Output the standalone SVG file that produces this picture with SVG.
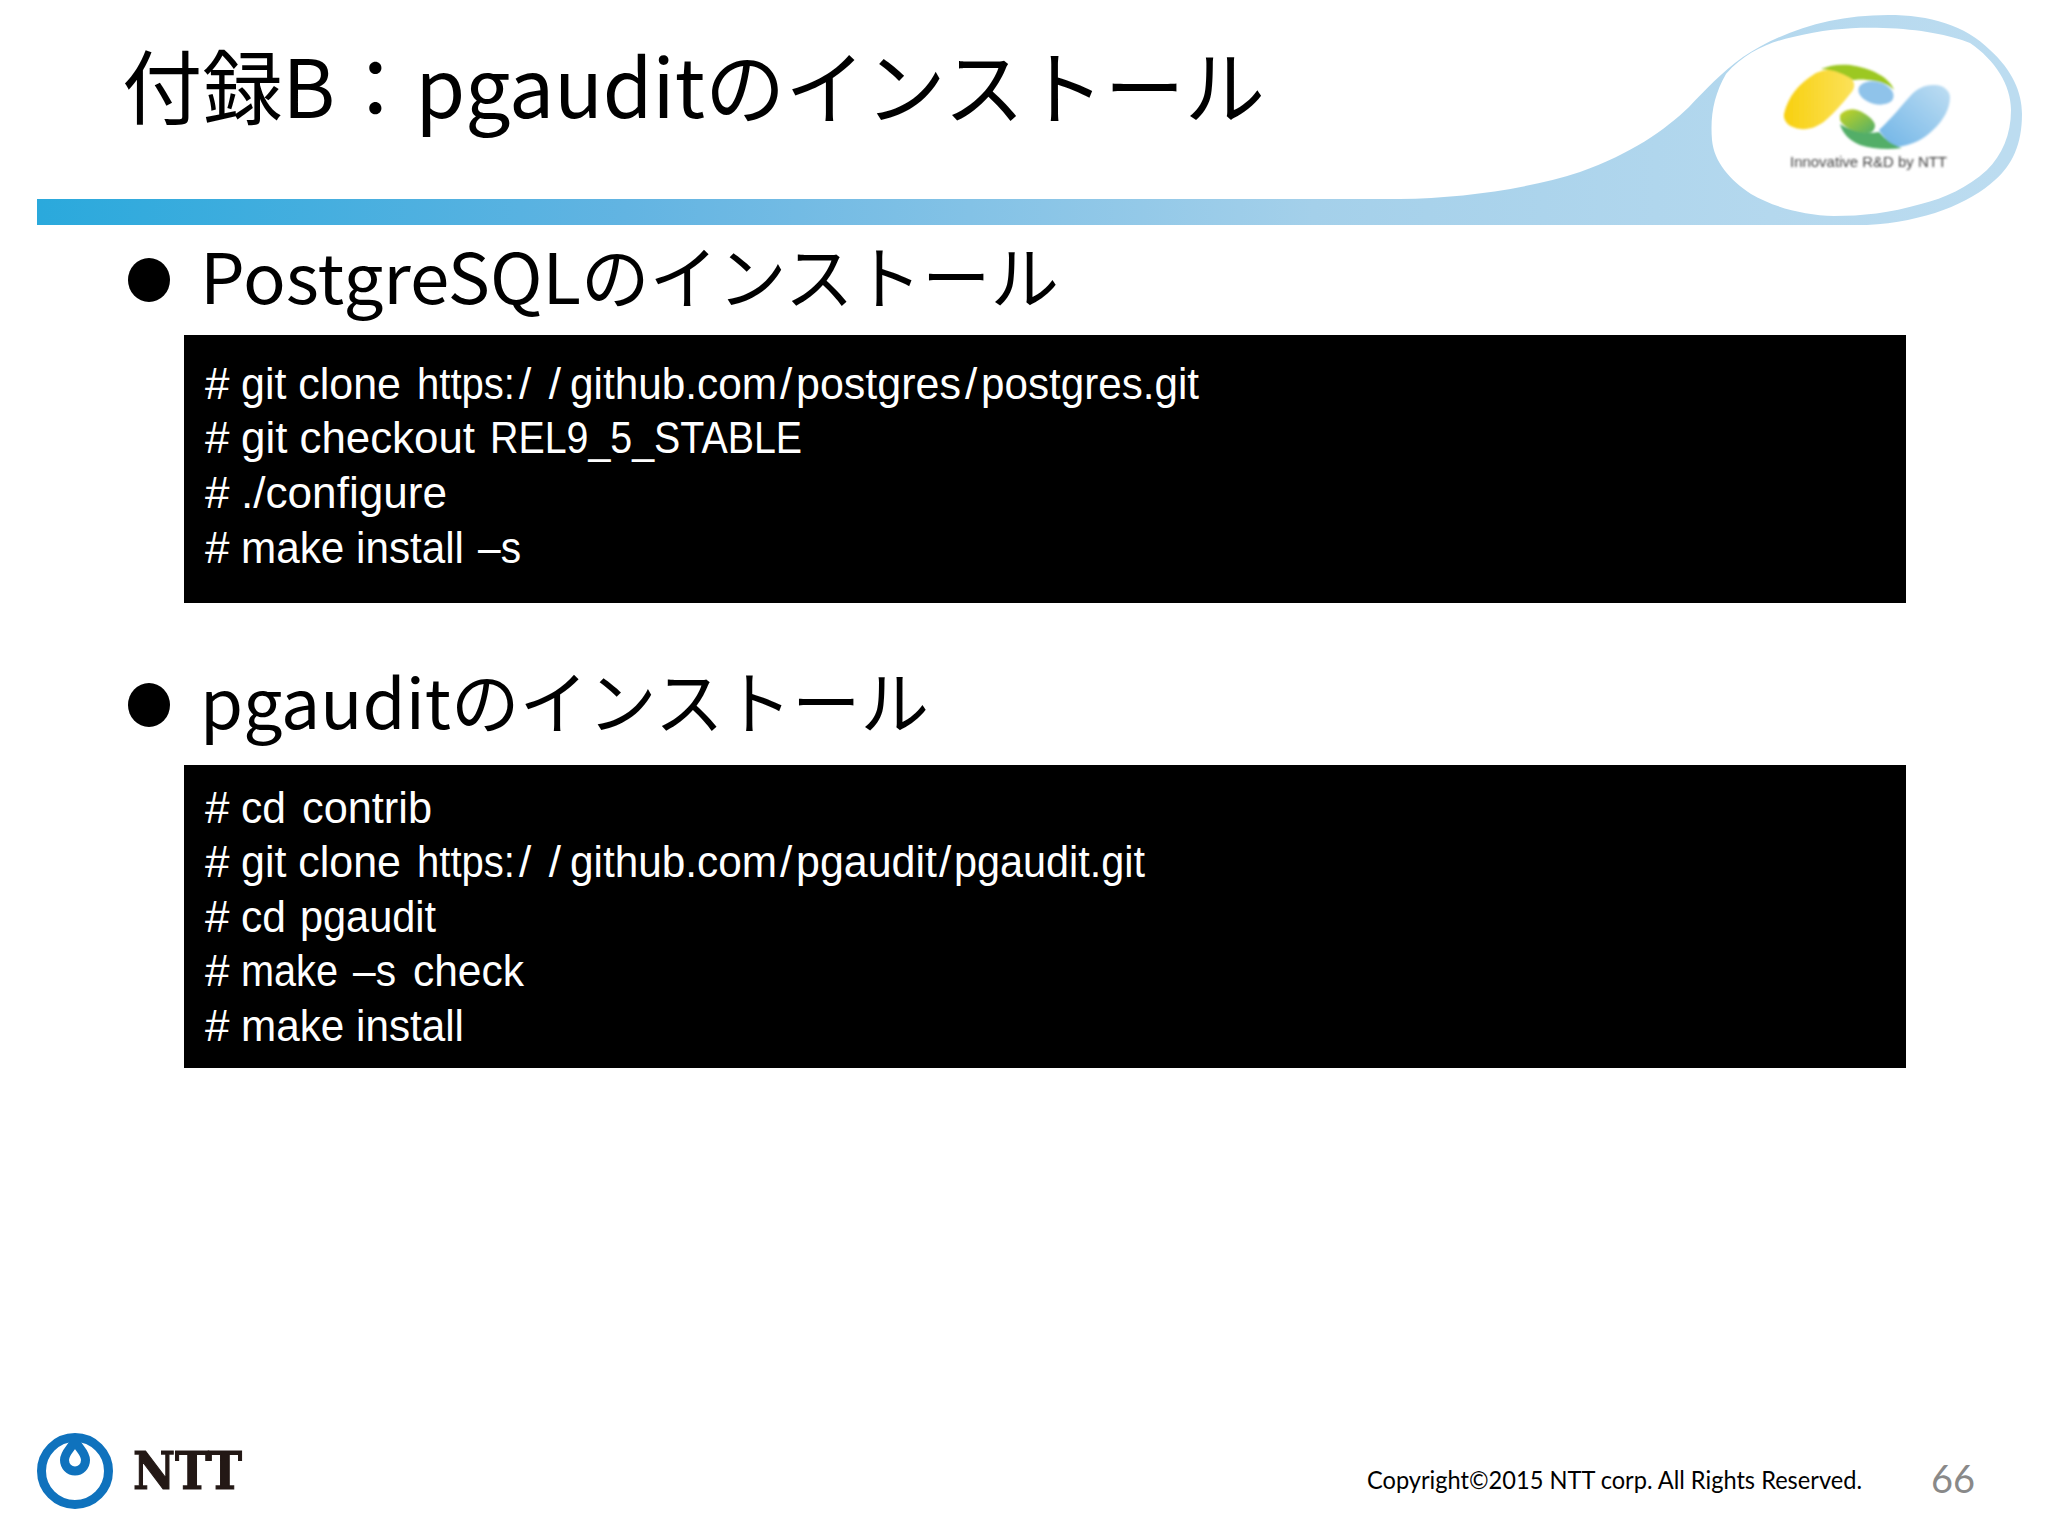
<svg xmlns="http://www.w3.org/2000/svg" width="2048" height="1536" viewBox="0 0 2048 1536">
<defs>
<linearGradient id="band" gradientUnits="userSpaceOnUse" x1="37" y1="0" x2="2000" y2="0"><stop offset="0" stop-color="#2aa9dc"/><stop offset="0.3" stop-color="#62b4e2"/><stop offset="0.65" stop-color="#a4d0ea"/><stop offset="1" stop-color="#bcdcf0"/></linearGradient>
<linearGradient id="yel" x1="0" y1="0" x2="1" y2="0"><stop offset="0" stop-color="#f8d010"/><stop offset="1" stop-color="#fbe25a"/></linearGradient>
<linearGradient id="blu" x1="0" y1="1" x2="1" y2="0"><stop offset="0" stop-color="#6fb4e6"/><stop offset="1" stop-color="#bfdef3"/></linearGradient>
<linearGradient id="grn" x1="0" y1="0" x2="1" y2="1"><stop offset="0" stop-color="#c8d420"/><stop offset="1" stop-color="#4fae6a"/></linearGradient>
<filter id="soft" x="-5%" y="-5%" width="110%" height="110%"><feGaussianBlur stdDeviation="0.8"/></filter>
</defs>
<style>
text{font-family:"Noto Sans CJK JP","Noto Sans",sans-serif;fill:#000}
.h{font-size:69px}
.c{font-size:44px;fill:#fff;font-family:"Liberation Sans","Noto Sans CJK JP",sans-serif}
</style>
<rect width="2048" height="1536" fill="#fff"/>
<g id="header-band">
<path d="M37 199H1400C1460 198 1524 190 1580 172C1631 154 1665 130 1689 107C1705 90 1722 72 1743 57C1780 32 1830 15 1888 15C1930 15 1965 25 1990 50C2012 70 2022 92 2022 114C2022 145 2012 165 1995 180C1970 203 1925 222 1867 225H37Z" fill="url(#band)"/>
<path d="M1712 140C1710 115 1714 95 1726 74C1745 52 1770 42 1793 37C1825 29 1855 27 1883 28C1920 29 1950 35 1970 43C1995 60 2011 85 2011 110C2011 135 2002 155 1987 170C1967 188 1945 198 1921 204C1890 213 1862 216 1834 216C1805 215 1775 208 1751 194C1730 180 1714 162 1712 140Z" fill="#fff"/>
</g>
<g id="logo-top" filter="url(#soft)">
<path d="M1784 114C1788 96 1800 83 1813 75C1822 69 1840 66 1852 79C1856 85 1854 90 1850 94C1842 104 1835 112 1826 120C1818 127 1808 130 1801 129C1790 128 1783 122 1784 114Z" fill="url(#yel)"/>
<path d="M1821 69C1830 65 1840 64 1850 65C1872 68 1890 78 1894 90C1888 84 1880 81 1867 80C1860 79 1856 80 1853 80C1845 74 1835 70 1821 69Z" fill="#9cc820"/>
<ellipse cx="1876" cy="93" rx="18" ry="11" transform="rotate(15 1876 93)" fill="#8fc3ea"/>
<path d="M1950 97C1950 90 1942 84 1933 85C1924 85 1917 89 1912 94C1902 105 1892 118 1879 130C1884 138 1890 144 1896 147C1912 146 1925 138 1933 130C1944 120 1950 108 1950 97Z" fill="url(#blu)"/>
<path d="M1840 124C1842 133 1850 141 1860 145C1872 149 1888 150 1902 148C1892 145 1886 140 1879 132C1870 134 1852 132 1840 124Z" fill="#52ae68"/>
<path d="M1840 115C1844 110 1851 108 1857 110C1866 113 1874 120 1875 125C1875 130 1872 133 1867 133C1855 133 1843 127 1840 120Z" fill="url(#grn)"/>
<text x="1790" y="167" font-size="15" textLength="157" lengthAdjust="spacingAndGlyphs" style="font-family:'Liberation Sans',sans-serif;fill:#444">Innovative R&amp;D by NTT</text>
</g>
<g id="title"><text x="122" y="118" font-size="81" textLength="1143" lengthAdjust="spacingAndGlyphs">付録B：pgauditのインストール</text></g>
<g id="section-1">
<ellipse cx="149" cy="280" rx="21" ry="22"/>
<text class="h" x="200" y="304"><tspan x="200" textLength="381" lengthAdjust="spacingAndGlyphs">PostgreSQL</tspan><tspan x="581" textLength="478" lengthAdjust="spacingAndGlyphs">のインストール</tspan></text>
</g>
<g id="code-1">
<rect x="184" y="335" width="1722" height="268"/>
<text class="c" x="205" y="399"># <tspan x="241" textLength="160" lengthAdjust="spacingAndGlyphs">git clone</tspan> <tspan x="417" textLength="98" lengthAdjust="spacingAndGlyphs">https:</tspan><tspan x="519" textLength="42" lengthAdjust="spacing">//</tspan><tspan x="570" textLength="207" lengthAdjust="spacingAndGlyphs">github.com</tspan><tspan x="780">/</tspan><tspan x="796" textLength="165" lengthAdjust="spacingAndGlyphs">postgres</tspan><tspan x="965">/</tspan><tspan x="981" textLength="218" lengthAdjust="spacingAndGlyphs">postgres.git</tspan></text>
<text class="c" x="205" y="453"># <tspan x="241" textLength="234" lengthAdjust="spacingAndGlyphs">git checkout</tspan> <tspan x="490" textLength="312" lengthAdjust="spacingAndGlyphs">REL9_5_STABLE</tspan></text>
<text class="c" x="205" y="508"># <tspan x="241" textLength="206" lengthAdjust="spacingAndGlyphs">./configure</tspan></text>
<text class="c" x="205" y="563"># <tspan x="241" textLength="223" lengthAdjust="spacingAndGlyphs">make install</tspan> <tspan x="478" textLength="43" lengthAdjust="spacingAndGlyphs">–s</tspan></text>
</g>
<g id="section-2">
<ellipse cx="149" cy="705" rx="21" ry="22"/>
<text class="h" x="200" y="729"><tspan x="200" textLength="251" lengthAdjust="spacingAndGlyphs">pgaudit</tspan><tspan x="451" textLength="478" lengthAdjust="spacingAndGlyphs">のインストール</tspan></text>
</g>
<g id="code-2">
<rect x="184" y="765" width="1722" height="303"/>
<text class="c" x="205" y="823"># <tspan x="241" textLength="45" lengthAdjust="spacingAndGlyphs">cd</tspan> <tspan x="302" textLength="130" lengthAdjust="spacingAndGlyphs">contrib</tspan></text>
<text class="c" x="205" y="877"># <tspan x="241" textLength="160" lengthAdjust="spacingAndGlyphs">git clone</tspan> <tspan x="417" textLength="98" lengthAdjust="spacingAndGlyphs">https:</tspan><tspan x="519" textLength="42" lengthAdjust="spacing">//</tspan><tspan x="570" textLength="207" lengthAdjust="spacingAndGlyphs">github.com</tspan><tspan x="780">/</tspan><tspan x="796" textLength="141" lengthAdjust="spacingAndGlyphs">pgaudit</tspan><tspan x="939">/</tspan><tspan x="954" textLength="191" lengthAdjust="spacingAndGlyphs">pgaudit.git</tspan></text>
<text class="c" x="205" y="932"># <tspan x="241" textLength="45" lengthAdjust="spacingAndGlyphs">cd</tspan> <tspan x="300" textLength="136" lengthAdjust="spacingAndGlyphs">pgaudit</tspan></text>
<text class="c" x="205" y="986"># <tspan x="241" textLength="97" lengthAdjust="spacingAndGlyphs">make</tspan> <tspan x="353" textLength="43" lengthAdjust="spacingAndGlyphs">–s</tspan> <tspan x="413" textLength="111" lengthAdjust="spacingAndGlyphs">check</tspan></text>
<text class="c" x="205" y="1041"># <tspan x="241" textLength="223" lengthAdjust="spacingAndGlyphs">make install</tspan></text>
</g>
<g id="ntt-logo">
<circle cx="75" cy="1471" r="33.5" fill="none" stroke="#0f72bd" stroke-width="9"/>
<path d="M75 1440C73 1447 64.5 1452 64.5 1460A10.5 11 0 0 0 85.5 1460C85.5 1452 77 1447 75 1440Z" fill="none" stroke="#0f72bd" stroke-width="9" stroke-linejoin="round"/>
<text x="133" y="1489" font-size="53" font-weight="bold" textLength="109" lengthAdjust="spacingAndGlyphs" stroke="#231815" stroke-width="1.2" style="font-family:'DejaVu Serif',serif;fill:#231815">NTT</text>
</g>
<g id="footer">
<text x="1367" y="1489" font-size="25" textLength="495" lengthAdjust="spacingAndGlyphs" style="font-family:'Lato',sans-serif">Copyright©2015  NTT corp. All Rights Reserved.</text>
<text x="1931" y="1493" font-size="38" style="font-family:'Lato',sans-serif;fill:#898989">66</text>
</g>
</svg>
